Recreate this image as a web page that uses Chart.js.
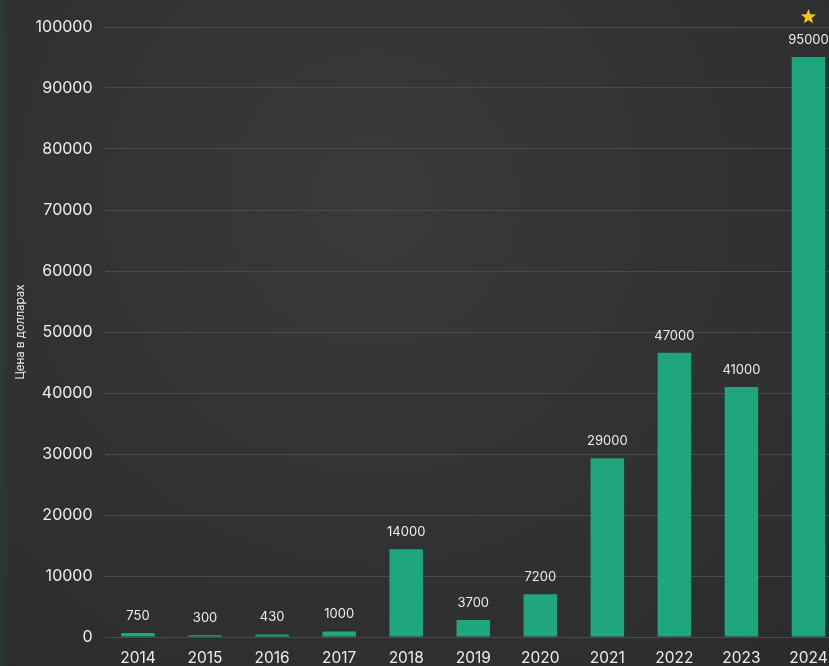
<!DOCTYPE html>
<html>
<head>
<meta charset="utf-8">
<script src="https://cdn.jsdelivr.net/npm/chart.js@4"></script>
<style>
    html, body {
        margin: 0;
        padding: 0;
        width: 829px;
        height: 666px;
        overflow: hidden;
        background: #2c2c2c;
    }
    #wrap {
        position: relative;
        width: 829px;
        height: 666px;
        overflow: hidden;
        background:
            linear-gradient(to right, rgba(30, 80, 60, 0.35) 0px, rgba(30, 80, 60, 0) 10px),
            radial-gradient(ellipse at 45% 30%, #3a3a3a 0%, #333333 45%, #2b2b2b 100%);
    }
    canvas { display: block; }
</style>
</head>
<body>
<div id="wrap">
    <canvas id="priceChart" width="842" height="666" style="width:842px;height:666px"></canvas>
</div>
<script>
// Years on the x axis
const years = ["2014", "2015", "2016", "2017", "2018", "2019", "2020", "2021", "2022", "2023", "2024"];
// Bar heights
const prices = [650, 300, 430, 900, 14400, 2800, 7000, 29300, 46600, 41000, 95100];
// Text printed above each bar
const priceLabels = ["750", "300", "430", "1000", "14000", "3700", "7200", "29000", "47000", "41000", "95000"];
// Year marked with the star
const starYear = "2024";

const textColor = "#ececec";
const barColor = "#1fa67e";
const fontFamily = "Inter, 'Open Sans', sans-serif";

// Draws the value labels and the star above bars
const barLabelsPlugin = {
    id: "barLabels",
    afterDatasetsDraw(chart) {
        const ctx = chart.ctx;
        const meta = chart.getDatasetMeta(0);
        ctx.save();
        ctx.font = "13px " + fontFamily;
        ctx.fillStyle = textColor;
        ctx.textAlign = "center";
        ctx.textBaseline = "middle";
        meta.data.forEach((bar, i) => {
            ctx.fillText(priceLabels[i], bar.x, bar.y - 17);
            if (years[i] === starYear) drawStar(ctx, bar.x, bar.y - 40, 8, 3.4);
        });
        ctx.restore();
    }
};

function drawStar(ctx, cx, cy, outer, inner) {
    ctx.beginPath();
    for (let k = 0; k < 10; k++) {
        const r = k % 2 === 0 ? outer : inner;
        const a = -Math.PI / 2 + k * Math.PI / 5;
        const px = cx + r * Math.cos(a);
        const py = cy + r * Math.sin(a);
        if (k === 0) ctx.moveTo(px, py); else ctx.lineTo(px, py);
    }
    ctx.closePath();
    ctx.fillStyle = "#f7c614";
    ctx.fill();
}

const ctx = document.getElementById("priceChart").getContext("2d");
new Chart(ctx, {
    type: "bar",
    data: {
        labels: years,
        datasets: [{
            data: prices,
            backgroundColor: barColor,
            borderWidth: 0,
            barPercentage: 0.5,
            categoryPercentage: 1.0
        }]
    },
    options: {
        responsive: false,
        animation: false,
        layout: { padding: { top: 27, left: 0, right: 0, bottom: 0 } },
        plugins: {
            legend: { display: false },
            tooltip: { enabled: false }
        },
        scales: {
            x: {
                grid: { display: false, drawTicks: false },
                border: { display: false },
                ticks: {
                    color: textColor,
                    padding: 12,
                    font: { family: fontFamily, size: 15.5 },
                    maxRotation: 0
                },
                afterFit: scale => { scale.height = 29; }
            },
            y: {
                min: 0,
                max: 100000,
                grid: { color: "#4a4a4a", lineWidth: 1, drawTicks: false },
                border: { display: false },
                ticks: {
                    stepSize: 10000,
                    color: textColor,
                    padding: 12,
                    font: { family: fontFamily, size: 16 },
                    callback: value => String(value)
                },
                title: {
                    display: true,
                    text: "Цена в долларах",
                    color: textColor,
                    font: { family: fontFamily, size: 11.5 },
                    padding: { top: 14, bottom: 0 }
                },
                afterFit: scale => { scale.width = 104.5; }
            }
        }
    },
    plugins: [barLabelsPlugin]
});
</script>
</body>
</html>
